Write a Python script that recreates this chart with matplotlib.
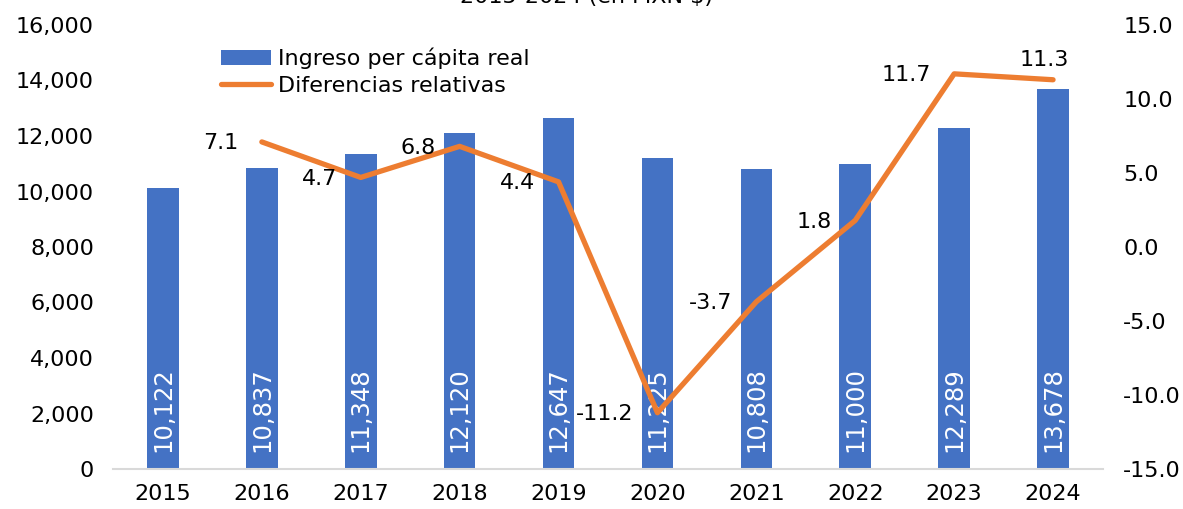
import numpy as np
import matplotlib.pyplot as plt

plt.rcParams['font.family'] = ['DejaVu Sans']

# data
years = ['2015', '2016', '2017', '2018', '2019', '2020', '2021', '2022', '2023', '2024']
ingreso = [10122, 10837, 11348, 12120, 12647, 11225, 10808, 11000, 12289, 13678]
dif_years = ['2016', '2017', '2018', '2019', '2020', '2021', '2022', '2023', '2024']
diferencias = [7.1, 4.7, 6.8, 4.4, -11.2, -3.7, 1.8, 11.7, 11.3]

blue = '#4472C4'
orange = '#ED7D31'
fs = 16

fig = plt.figure(figsize=(11.83, 5.09), dpi=100)
ax = fig.add_axes([113.5 / 1183, 40 / 509, 989 / 1183, 444 / 509])
ax2 = ax.twinx()

x = np.arange(len(years))
bars = ax.bar(x, ingreso, width=0.32, color=blue, label='Ingreso per cápita real', zorder=2)
for xi, v in zip(x, ingreso):
    ax.annotate(f'{v:,}', (xi, 0), xytext=(0, 12), textcoords='offset points',
                rotation=90, ha='center', va='bottom', color='white', fontsize=17.5)

xl = [years.index(y) for y in dif_years]
line, = ax2.plot(xl, diferencias, color=orange, lw=3.8, solid_capstyle='round',
                 solid_joinstyle='round', label='Diferencias relativas', zorder=3)
for xi, v in zip(xl, diferencias):
    if years[xi] == '2024':
        ax2.annotate(f'{v:.1f}', (xi, v), xytext=(-6, 7), textcoords='offset points',
                     ha='center', va='bottom', fontsize=fs)
    else:
        ax2.annotate(f'{v:.1f}', (xi, v), xytext=(-17, -1), textcoords='offset points',
                     ha='right', va='center', fontsize=fs)

ax.set_xlim(-0.5, 9.5)
ax.set_ylim(0, 16000)
ax.set_yticks(np.arange(0, 16001, 2000))
ax.set_yticklabels([f'{t:,}' for t in range(0, 16001, 2000)])
ax2.set_ylim(-15, 15)
ax2.set_yticks(np.arange(-15, 15.1, 5))
ax2.set_yticklabels([f'{t:.1f}' for t in np.arange(-15, 15.1, 5)])
ax.set_xticks(x)
ax.set_xticklabels(years)

for a in (ax, ax2):
    for s in ('top', 'left', 'right', 'bottom'):
        a.spines[s].set_visible(False)
ax.spines['bottom'].set_visible(True)
ax.spines['bottom'].set_color('#D9D9D9')
ax.spines['bottom'].set_linewidth(1.5)
ax.tick_params(axis='y', length=0, pad=14, labelsize=fs)
ax.tick_params(axis='x', length=0, pad=11, labelsize=fs)
ax2.tick_params(axis='y', length=0, pad=15, labelsize=fs)

fig.legend(handles=[bars, line], loc='upper left', bbox_to_anchor=(212 / 1183, 1 - 39 / 509),
           frameon=False, fontsize=fs, handlelength=2.25, handletextpad=0.3,
           labelspacing=0.3, borderaxespad=0)

fig.text(586 / 1183, 1 - 3 / 509, '2015-2024 (en MXN $)', ha='center', va='baseline', fontsize=fs)

fig.savefig('out.png', dpi=100)
